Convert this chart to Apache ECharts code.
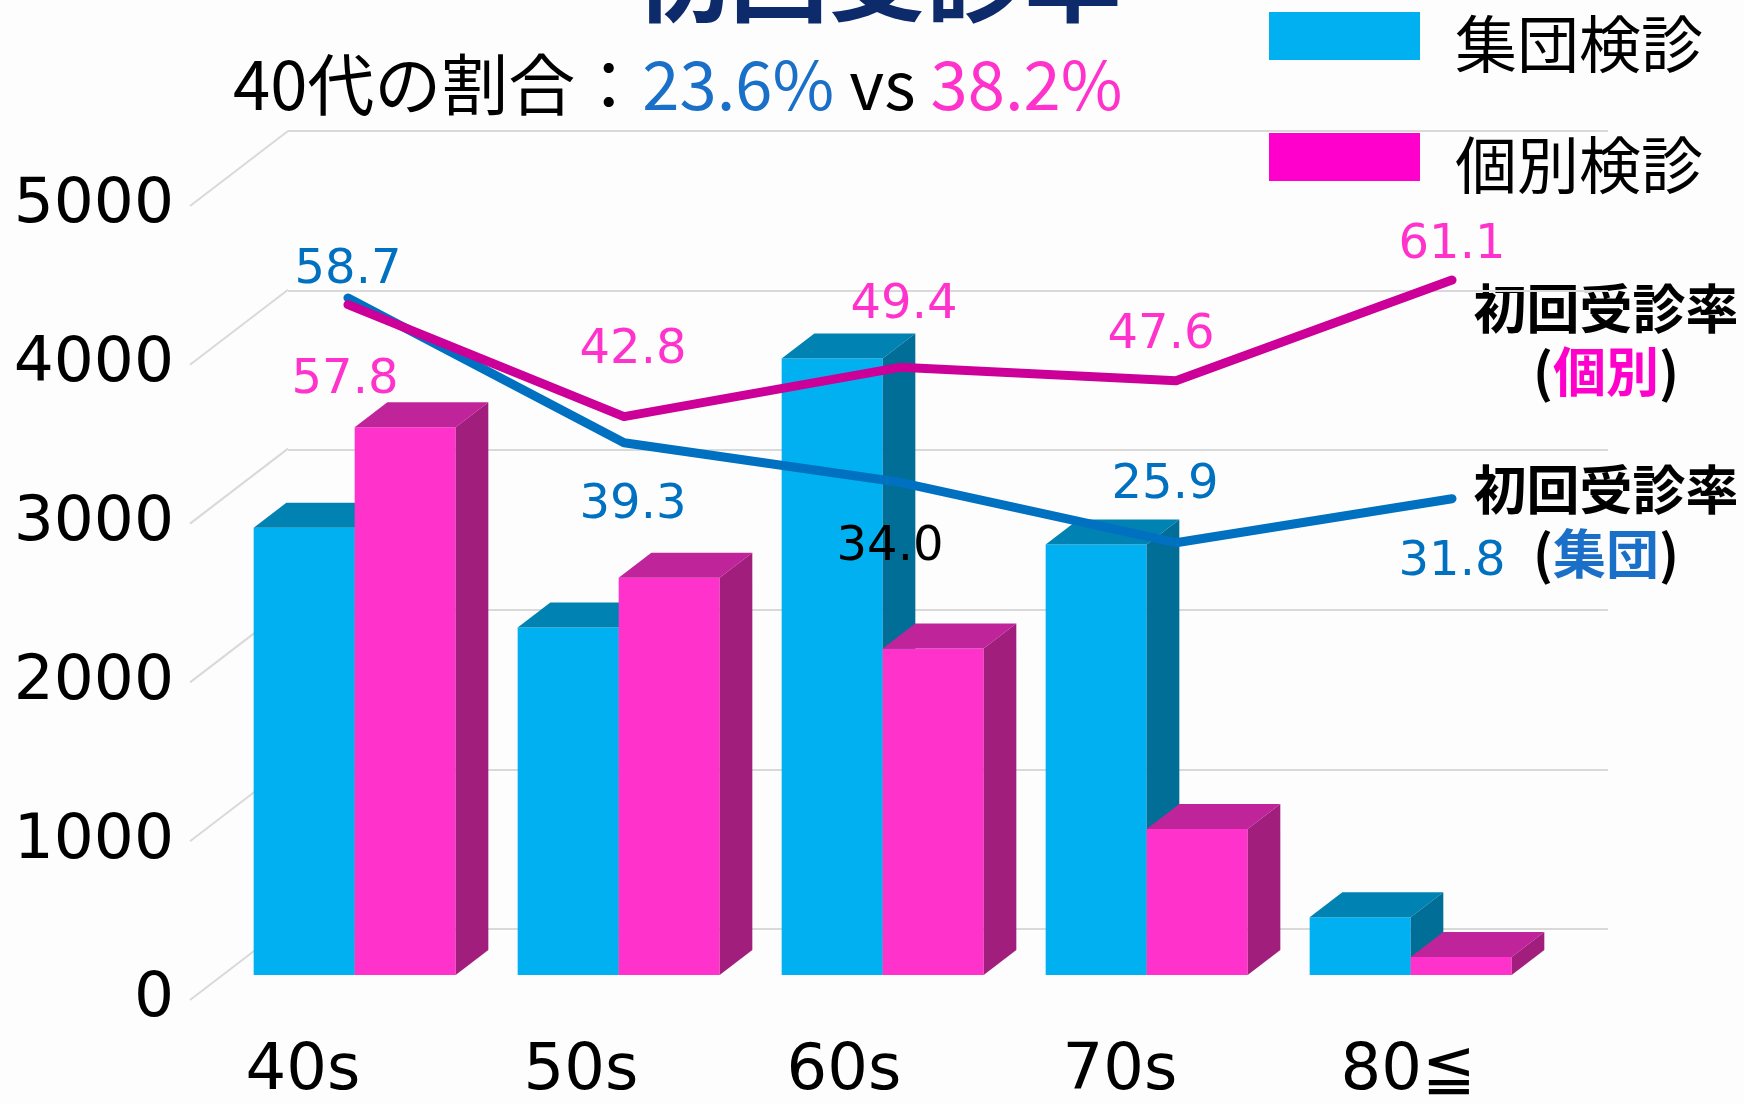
<!DOCTYPE html>
<html>
<head>
<meta charset="utf-8">
<title>初回受診率</title>
<script src="https://cdn.jsdelivr.net/npm/echarts@6/dist/echarts.min.js"></script>
<style>
    html, body { margin: 0; padding: 0; background: #fdfdfd; }
    #chart { width: 1744px; height: 1104px; }
</style>
</head>
<body>
<div id="chart"></div>
<script>
// 年代
var categories = ['40s', '50s', '60s', '70s', '80≦'];
// 受診者数の目盛り
var countTicks = [0, 1000, 2000, 3000, 4000, 5000];
// 受診者数（集団 / 個別）
var groupCounts = [2816, 2189, 3882, 2711, 363];
var individualCounts = [3450, 2502, 2056, 920, 113];
// 初回受診率（%）
var groupRates = [58.7, 39.3, 34.0, 25.9, 31.8];
var individualRates = [57.8, 42.8, 49.4, 47.6, 61.1];

// ラベルの置き方 [position, distance, x offset]
var groupLabelPlace = [['top', 2, 0], ['bottom', 38, 9], ['bottom', 40, -10], ['top', 32, -11], ['bottom', 39, 0]];
var individualLabelPlace = [['bottom', 51, -3], ['top', 41, 9], ['top', 37, 4], ['top', 20, -15], ['top', 10, 0]];
var groupLabelColors = ['#0070c0', '#0070c0', '#000000', '#0070c0', '#0070c0'];
// 年代ラベルの横ずれ [左, 右] の余白
var catLabelPad = [[0, 38], [0, 10], [0, 12], [12, 0], [60, 0]];

// 奥行き（斜投影）
var DEPTH_X = 98;
var DEPTH_Y = -75;
var BAR_W = 101;

var chart = echarts.init(document.getElementById('chart'));

// 3Dっぽい棒を描く
function makeBar(colors, leftSide) {
    return function (params, api) {
        var i = api.value(0);
        var base = api.coord([i, 0]);
        var top = api.coord([i, api.value(1)]);
        var dx = DEPTH_X / 3, dy = DEPTH_Y / 3;
        var x0 = base[0] + dx + (leftSide ? -BAR_W : 0);
        var x1 = x0 + BAR_W;
        var yb = base[1] + dy, yt = top[1] + dy;
        return {
            type: 'group',
            children: [
                { type: 'polygon', shape: { points: [[x0, yt], [x1, yt], [x1, yb], [x0, yb]] }, style: { fill: colors[0] } },
                { type: 'polygon', shape: { points: [[x0, yt], [x1, yt], [x1 + dx, yt + dy], [x0 + dx, yt + dy]] }, style: { fill: colors[1] } },
                { type: 'polygon', shape: { points: [[x1, yt], [x1 + dx, yt + dy], [x1 + dx, yb + dy], [x1, yb]] }, style: { fill: colors[2] } }
            ]
        };
    };
}

function rateData(values, place, colors) {
    return values.map(function (v, k) {
        var lb = { position: place[k][0], distance: place[k][1], offset: [place[k][2], 0] };
        if (colors) lb.color = colors[k];
        return { value: v, label: lb };
    });
}

var labelFont = 'DejaVu Sans';
var jpFont = '"Noto Sans CJK JP", sans-serif';

var catRich = {};
catLabelPad.forEach(function (p, k) {
    catRich['c' + k] = { fontSize: 64, fontFamily: labelFont, color: '#000', padding: [0, p[1], 0, p[0]] };
});

var option = {
    backgroundColor: '#fdfdfd',
    animation: false,
    legend: {
        orient: 'vertical',
        left: 1269,
        top: 12,
        padding: 0,
        itemGap: 57,
        itemWidth: 151,
        itemHeight: 64,
        // 上寄せの四角（下に空の余白）
        icon: 'path://M0,0H151V48H0ZM0,64H1V64H0Z',
        selectedMode: false,
        textStyle: { fontSize: 62, fontFamily: jpFont, color: '#000', padding: [0, 0, 0, 30] },
        data: [
            { name: '集団検診', itemStyle: { color: '#00b0f0' } },
            { name: '個別検診', itemStyle: { color: '#ff00cc' } }
        ]
    },
    grid: [
        // 手前の面
        { left: 190, right: 234, top: 206, bottom: 100 },
        // 奥の壁
        { left: 190 + DEPTH_X, right: 234 - DEPTH_X, top: 206 + DEPTH_Y, bottom: 100 - DEPTH_Y },
        // 折れ線
        { left: 348, right: 292, top: 139, bottom: 368 }
    ],
    xAxis: [
        {
            gridIndex: 0, type: 'category', data: categories,
            axisLine: { show: false }, axisTick: { show: false },
            axisLabel: {
                interval: 0, hideOverlap: false,
                fontSize: 64, fontFamily: labelFont, color: '#000', margin: 40,
                formatter: function (v, idx) { return '{c' + idx + '|' + v + '}'; },
                rich: catRich
            }
        },
        { gridIndex: 1, type: 'category', data: categories, show: false },
        { gridIndex: 2, type: 'category', data: categories, boundaryGap: false, show: false }
    ],
    yAxis: [
        {
            gridIndex: 0, type: 'value', min: 0, max: 5000, interval: 1000,
            axisLine: { show: false }, axisTick: { show: false }, splitLine: { show: false },
            axisLabel: {
                fontSize: 63, fontFamily: labelFont, color: '#000', margin: 16,
                formatter: function (v) { return String(v); }
            }
        },
        {
            gridIndex: 1, type: 'value', min: 0, max: 5000, interval: 1000,
            axisLine: { show: false }, axisTick: { show: false }, axisLabel: { show: false },
            splitLine: { show: true, lineStyle: { color: '#d9d9d9', width: 2 } }
        },
        { gridIndex: 2, type: 'value', min: 0, max: 80, show: false, splitLine: { show: false } }
    ],
    series: [
        {
            // 左側の斜めの目盛線
            type: 'custom',
            xAxisIndex: 0, yAxisIndex: 0,
            silent: true,
            data: countTicks.map(function (v) { return [0, v]; }),
            renderItem: function (params, api) {
                var p = api.coord([0, api.value(1)]);
                var x0 = params.coordSys.x;
                return {
                    type: 'line',
                    shape: { x1: x0, y1: p[1], x2: x0 + DEPTH_X, y2: p[1] + DEPTH_Y },
                    style: { stroke: '#d9d9d9', lineWidth: 2 }
                };
            }
        },
        {
            name: '集団検診',
            type: 'custom',
            xAxisIndex: 0, yAxisIndex: 0,
            itemStyle: { color: '#00b0f0' },
            encode: { x: 0, y: 1 },
            data: groupCounts.map(function (v, i) { return [i, v]; }),
            renderItem: makeBar(['#00b0f0', '#0083b3', '#006e96'], true)
        },
        {
            name: '個別検診',
            type: 'custom',
            xAxisIndex: 0, yAxisIndex: 0,
            itemStyle: { color: '#ff33cc' },
            encode: { x: 0, y: 1 },
            data: individualCounts.map(function (v, i) { return [i, v]; }),
            renderItem: makeBar(['#ff33cc', '#c0249a', '#a21e7c'], false)
        },
        {
            name: '初回受診率(個別)',
            type: 'line',
            xAxisIndex: 2, yAxisIndex: 2,
            z: 5,
            symbol: 'circle',
            symbolSize: 2,
            showSymbol: true,
            itemStyle: { color: '#cc0099' },
            lineStyle: { color: '#cc0099', width: 9, cap: 'round', join: 'round' },
            label: {
                show: true, fontSize: 48, fontFamily: labelFont, color: '#ff33cc',
                formatter: function (p) { return p.value.toFixed(1); }
            },
            data: rateData(individualRates, individualLabelPlace)
        },
        {
            name: '初回受診率(集団)',
            type: 'line',
            xAxisIndex: 2, yAxisIndex: 2,
            z: 4,
            symbol: 'circle',
            symbolSize: 2,
            showSymbol: true,
            itemStyle: { color: '#0070c0' },
            lineStyle: { color: '#0070c0', width: 9, cap: 'round', join: 'round' },
            label: {
                show: true, fontSize: 48, fontFamily: labelFont, color: '#0070c0',
                formatter: function (p) { return p.value.toFixed(1); }
            },
            data: rateData(groupRates, groupLabelPlace, groupLabelColors)
        }
    ],
    graphic: [
        {
            type: 'text', x: 877, y: 26,
            style: { text: '初回受診率', fontSize: 98, fontWeight: 'bold', fontFamily: jpFont, fill: '#0d2b6b', align: 'center', verticalAlign: 'bottom' }
        },
        {
            type: 'text', x: 233, y: 85,
            style: {
                text: '{k|40代の割合：}{b|23.6%}{k| vs }{p|38.2%}',
                fontSize: 67, fontFamily: jpFont, align: 'left', verticalAlign: 'middle',
                rich: {
                    k: { fontSize: 67, fontFamily: jpFont, fill: '#000' },
                    b: { fontSize: 67, fontFamily: jpFont, fill: '#1a70c8' },
                    p: { fontSize: 67, fontFamily: jpFont, fill: '#ff33cc' }
                }
            }
        },
        {
            type: 'text', x: 1606, y: 309,
            style: { text: '初回受診率', fontSize: 53, fontWeight: 'bold', fontFamily: jpFont, fill: '#000', align: 'center', verticalAlign: 'middle' }
        },
        {
            type: 'text', x: 1606, y: 372,
            style: {
                text: '{k|(}{p|個別}{k|)}', align: 'center', verticalAlign: 'middle',
                rich: {
                    k: { fontSize: 53, fontWeight: 'bold', fontFamily: jpFont, fill: '#000' },
                    p: { fontSize: 53, fontWeight: 'bold', fontFamily: jpFont, fill: '#ff00cc' }
                }
            }
        },
        {
            type: 'text', x: 1606, y: 490,
            style: { text: '初回受診率', fontSize: 53, fontWeight: 'bold', fontFamily: jpFont, fill: '#000', align: 'center', verticalAlign: 'middle' }
        },
        {
            type: 'text', x: 1606, y: 554,
            style: {
                text: '{k|(}{b|集団}{k|)}', align: 'center', verticalAlign: 'middle',
                rich: {
                    k: { fontSize: 53, fontWeight: 'bold', fontFamily: jpFont, fill: '#000' },
                    b: { fontSize: 53, fontWeight: 'bold', fontFamily: jpFont, fill: '#1a70c8' }
                }
            }
        }
    ]
};

chart.setOption(option);
</script>
</body>
</html>
